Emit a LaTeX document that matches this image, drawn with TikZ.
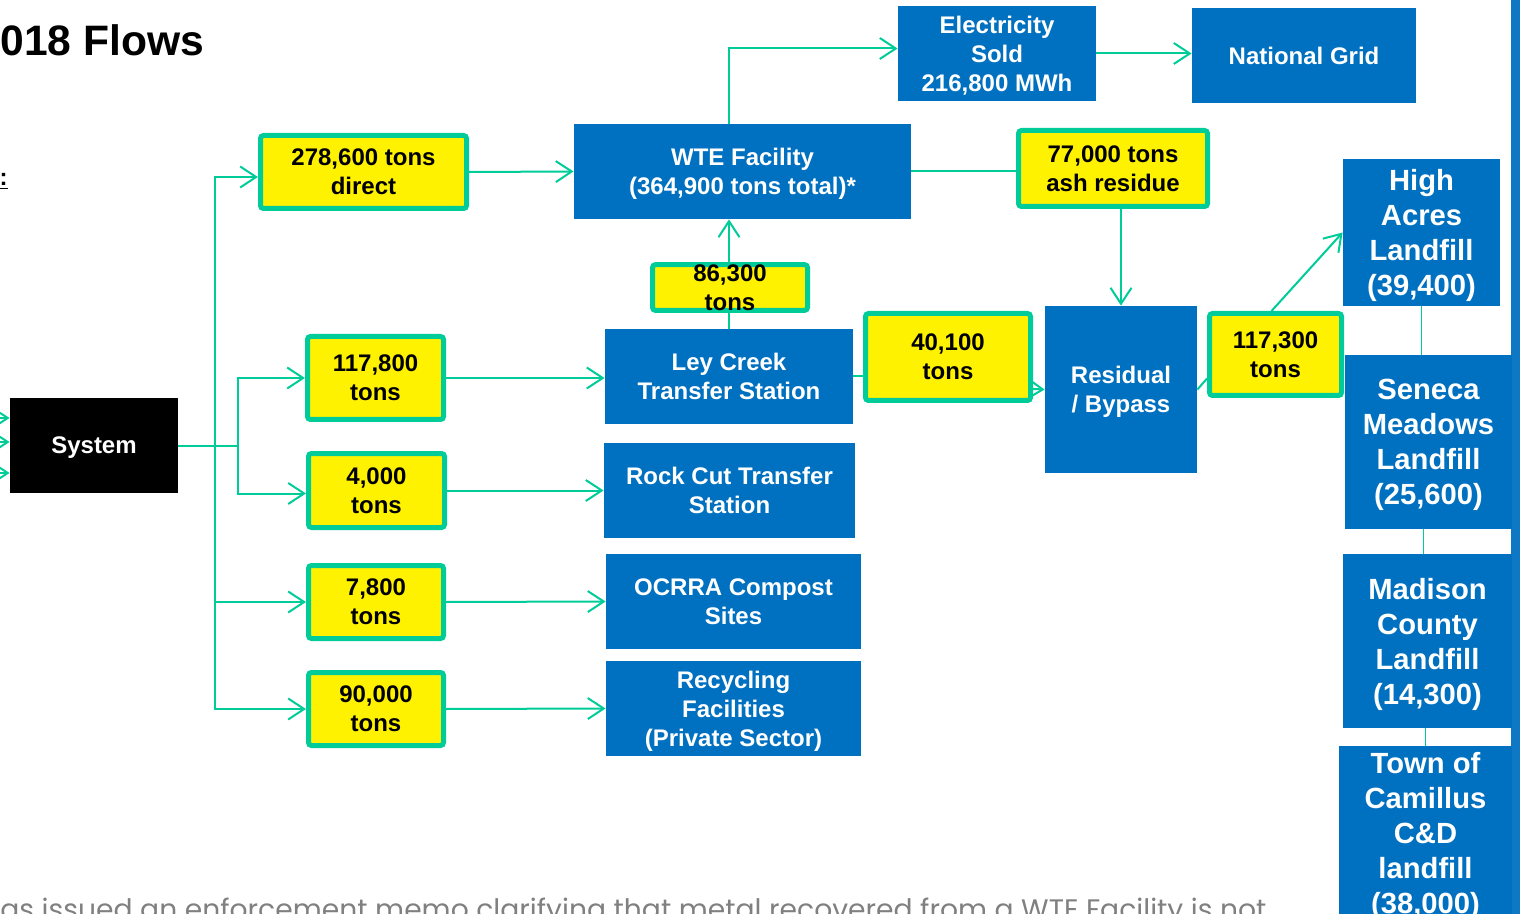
\documentclass[tikz,border=0pt]{standalone}
\usepackage{fontspec}
\setmainfont{Liberation Sans}
\newfontfamily\notefont{Poppins}
\usetikzlibrary{arrows.meta,backgrounds}

\definecolor{wteblue}{RGB}{0,112,192}
\definecolor{barblue}{RGB}{14,120,196}
\definecolor{flowgreen}{RGB}{0,204,153}
\definecolor{notegray}{RGB}{128,128,128}

\tikzset{
  boxsize/.style 2 args={minimum width=#1*0.5pt, minimum height=#2*0.5pt},
  flowbox/.style={fill=wteblue, text=white, align=center, inner sep=0pt, text depth=-4pt,
    font=\bfseries\fontsize{12}{14.5}\selectfont},
  sitebox/.style={flowbox, text depth=-2pt, font=\bfseries\fontsize{14.6}{17.5}\selectfont},
  tonbox/.style={fill=yellow, draw=flowgreen, line width=2.5pt, rounded corners=1.5pt,
    align=center, inner sep=0pt, text depth=-3.5pt, font=\bfseries\fontsize{12}{14.5}\selectfont},
  flow/.style={draw=flowgreen, line width=1pt},
  thinflow/.style={draw=flowgreen, line width=0.75pt},
}

\begin{document}
\begin{tikzpicture}[x=0.5pt,y=-0.5pt,>={Straight Barb[length=8pt,width=10.5pt]}]

\useasboundingbox (0,0) rectangle (1520,914);
\clip (0,0) rectangle (1520,914);

% Title and note text (cut by the slide edges)
\node[anchor=west, inner sep=0pt, font=\bfseries\fontsize{21.3}{25}\selectfont] (title) at (0,40) {018 Flows};
\node[anchor=base east, inner sep=0pt, font=\bfseries\fontsize{12}{14.5}\selectfont] (mark) at (8,186) {\underline{:}};
\node[anchor=base west, inner sep=0pt, text=notegray, font=\notefont\fontsize{14.1}{17}\selectfont] (note) at (0,919)
  {as issued an enforcement memo clarifying that metal recovered from a WTE Facility is not};

% Slide edge bar
\fill[barblue] (1511,0) rectangle (1520,914);

% Source
\node[flowbox, fill=black, boxsize={168}{95}] (system) at (94,445.5) {System};

% Tonnage boxes
\node[tonbox, boxsize={206}{73}] (direct) at (363.5,172) {278,600 tons\\direct};
\node[tonbox, boxsize={136}{83}] (t117) at (375.5,378) {117,800\\tons};
\node[tonbox, boxsize={136}{74}] (t4) at (376.5,490.5) {4,000\\tons};
\node[tonbox, boxsize={135}{73}] (t78) at (376,602) {7,800\\tons};
\node[tonbox, boxsize={135}{73}] (t90) at (376,709) {90,000\\tons};

% Facilities
\node[flowbox, boxsize={337}{95}] (wte) at (742.5,171.5) {WTE Facility\\(364,900 tons total)*};
\node[flowbox, boxsize={248}{95}] (ley) at (729,376.5) {Ley Creek\\Transfer Station};
\node[flowbox, boxsize={251}{95}] (rock) at (729.5,490.5) {Rock Cut Transfer\\Station};
\node[flowbox, boxsize={255}{95}] (ocrra) at (733.5,601.5) {OCRRA Compost\\Sites};
\node[flowbox, boxsize={255}{95}] (recyc) at (733.5,708.5) {Recycling\\Facilities\\(Private Sector)};

\node[tonbox, boxsize={155}{44}, text depth=0pt] (t86) at (730,287.5) {86,300\\tons};

% Energy
\node[flowbox, boxsize={198}{95}] (elec) at (997,53.5) {Electricity\\Sold\\216,800 MWh};
\node[flowbox, boxsize={224}{95}, text depth=-1.5pt] (grid) at (1304,55.5) {National Grid};

% Residue
\node[tonbox, boxsize={189}{76}] (ash) at (1113,168.5) {77,000 tons\\ash residue};
\node[tonbox, boxsize={165}{87}] (t40) at (948,357) {40,100\\tons};
\node[flowbox, boxsize={152}{167}] (resid) at (1121,389.5) {Residual\\/ Bypass};
\node[tonbox, boxsize={132}{82}] (t117b) at (1275.5,354.5) {117,300\\tons};

% Landfills
\node[sitebox, boxsize={157}{147}] (high) at (1421.5,232.5) {High\\Acres\\Landfill\\(39,400)};
\node[sitebox, boxsize={167}{174}] (seneca) at (1428.5,442) {Seneca\\Meadows\\Landfill\\(25,600)};
\node[sitebox, boxsize={169}{174}] (madison) at (1427.5,641) {Madison\\County\\Landfill\\(14,300)};
\node[sitebox, boxsize={173}{174}, text depth=-1pt] (camillus) at (1425.5,833) {Town of\\Camillus\\C\&D\\landfill\\(38,000)};

% Inflows from the left
\coordinate (inA) at (-40,418);
\coordinate (inB) at (-40,442);
\coordinate (inC) at (-40,473);
\foreach \c in {inA,inB,inC}
  \draw[flow,->] (\c) -- (\c -| system.west);

% Split from the system
\coordinate (trunkA) at (215,445.5);
\coordinate (trunkB) at (238,445.5);
\begin{scope}[on background layer]
\draw[flow] (system.east) -- (trunkB);
\draw[flow,->] (trunkA) |- ([yshift=-2.5pt]direct.west);
\draw[flow,->] (trunkA) |- (t78.west);
\draw[flow,->] (trunkA) |- (t90.west);
\draw[flow,->] (trunkB) |- (t117.west);
\draw[flow,->] (trunkB) |- ([yshift=-1.5pt]t4.west);

% To the facilities
\draw[flow,->] (direct.east) -- (wte.west);
\draw[flow,->] (t117.east) -- (t117.east -| ley.west);
\draw[flow,->] (t4.east) -- (rock.west);
\draw[flow,->] (t78.east) -- (ocrra.west);
\draw[flow,->] (t90.east) -- (recyc.west);
\draw[flow,->] (ley.north) -- (ley.north |- wte.south);

% Energy and residue
\draw[flow,->] (ley.north |- wte.north) |- ([yshift=2.5pt]elec.west);
\draw[flow,->] (elec.east) -- (elec.east -| grid.west);
\draw[flow] (wte.east) -- (wte.east -| ash.west);
\draw[flow,->] (resid.north |- ash.south) -- (resid.north);
\draw[flow] (ley.east) -- (ley.east -| t40.west);
\draw[flow,->] ([yshift=-16pt]t40.east) -- (resid.west);
\draw[flow] (resid.east) -- ([yshift=-12pt]t117b.west);
\draw[flow,->] ([xshift=-2pt]t117b.north) -- (high.west);

% Between the landfills
\draw[thinflow] (high.south) -- (high.south |- seneca.north);
\draw[thinflow] ([xshift=-2.5pt]seneca.south) -- ([xshift=-2.5pt]seneca.south |- madison.north);
\draw[thinflow] ([xshift=-1pt]madison.south) -- ([xshift=-1pt]madison.south |- camillus.north);
\end{scope}

\end{tikzpicture}
\end{document}
